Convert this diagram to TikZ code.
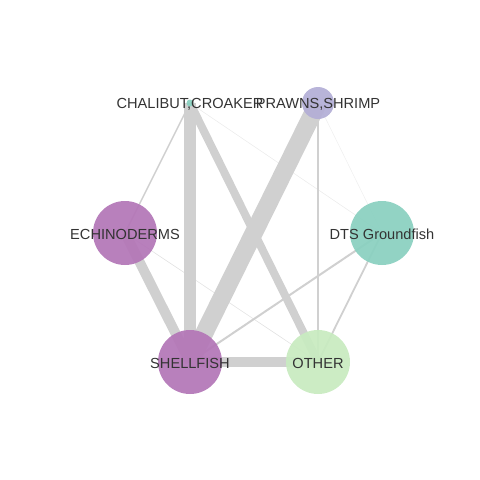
\documentclass[tikz,border=0pt]{standalone}
\usepackage{fontspec}
\setmainfont{Liberation Sans}
\pgfdeclarelayer{bg}
\pgfsetlayers{bg,main}
\definecolor{edgegray}{HTML}{D0D0D0}
\definecolor{purp}{HTML}{B376B7}
\definecolor{teal}{HTML}{8AD0C0}
\definecolor{lav}{HTML}{B3AED6}
\definecolor{lgreen}{HTML}{C8EBC0}
\definecolor{txt}{HTML}{333333}
\tikzset{
  vert/.style={circle, draw=none, inner sep=0pt, fill opacity=0.93},
  lbl/.style={text=txt, font=\fontsize{14.6}{16}\selectfont, inner sep=0pt, yshift=-1pt},
  edge/.style={draw=edgegray, line cap=butt},
}
\begin{document}
\begin{tikzpicture}[x=1pt,y=-1pt]
\useasboundingbox (0,0) rectangle (480,480);
\node[vert, fill=teal, minimum size=7pt] (cc) at (190,103) {};
\node[vert, fill=lav, minimum size=32pt] (ps) at (318,103) {};
\node[vert, fill=purp, minimum size=64pt] (ec) at (125,233) {};
\node[vert, fill=teal, minimum size=64pt] (dts) at (382,233) {};
\node[vert, fill=purp, minimum size=64pt] (sh) at (190,362) {};
\node[vert, fill=lgreen, minimum size=64pt] (ot) at (318,362) {};
\begin{pgfonlayer}{bg}
\draw[edge, line width=18pt] (ps.center) -- (sh.center);
\draw[edge, line width=12pt] (cc.center) -- (sh.center);
\draw[edge, line width=8pt] (cc.center) -- (ot.center);
\draw[edge, line width=10pt] (ec.center) -- (sh.center);
\draw[edge, line width=10pt] (sh.center) -- (ot.center);
\draw[edge, line width=1.5pt] (cc.center) -- (ec.center);
\draw[edge, line width=2pt] (dts.center) -- (sh.center);
\draw[edge, line width=1.8pt] (dts.center) -- (ot.center);
\draw[edge, line width=1.3pt] (ps.center) -- (ot.center);
\draw[edge, line width=0.5pt, draw opacity=0.45] (cc.center) -- (dts.center);
\draw[edge, line width=0.5pt, draw opacity=0.35] (ps.center) -- (dts.center);
\draw[edge, line width=0.6pt, draw opacity=0.6] (ec.center) -- (ot.center);
\end{pgfonlayer}
\node[lbl] (lcc) at (cc.center) {CHALIBUT,CROAKER};
\node[lbl] (lps) at (ps.center) {PRAWNS,SHRIMP};
\node[lbl] (lec) at (ec.center) {ECHINODERMS};
\node[lbl] (ldts) at (dts.center) {DTS Groundfish};
\node[lbl] (lsh) at (sh.center) {SHELLFISH};
\node[lbl] (lot) at (ot.center) {OTHER};
\end{tikzpicture}
\end{document}
